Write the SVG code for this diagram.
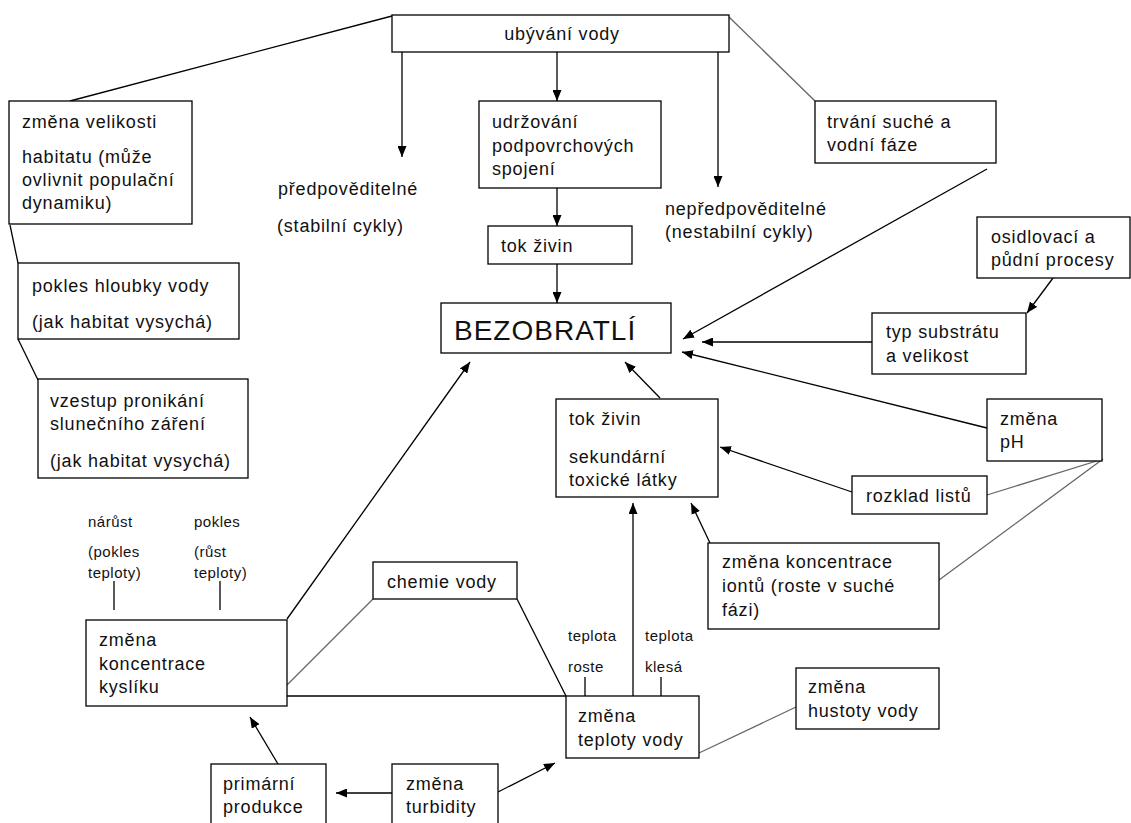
<svg xmlns="http://www.w3.org/2000/svg" width="1131" height="823" viewBox="0 0 1131 823">
<defs>
<marker id="ah" markerUnits="userSpaceOnUse" markerWidth="11" markerHeight="9" refX="11" refY="4.5" orient="auto">
<path d="M0,0 L11,4.5 L0,9 z" fill="#000"/>
</marker>
<style>
rect.b{fill:#fff;stroke:#000;stroke-width:1.3}
text{font-family:"Liberation Sans",Arial,sans-serif;font-size:18px;letter-spacing:0.8px;fill:#111}
text.s{font-size:15px;letter-spacing:0.5px}
text.big{font-size:28px;letter-spacing:1px}
.c line,.c polyline{stroke:#000;stroke-width:1.3;fill:none}
.c .g{stroke:#666}
.c .a{marker-end:url(#ah)}
</style>
</defs>
<rect width="1131" height="823" fill="#fff"/>
<g class="c" id="connectors">
<line x1="392" y1="16" x2="70" y2="101"/>
<line class="a" x1="402" y1="52" x2="402" y2="157"/>
<line class="a" x1="557" y1="52" x2="557" y2="101"/>
<line class="a" x1="718" y1="52" x2="718" y2="187"/>
<line class="g" x1="729" y1="17" x2="815" y2="101"/>
<line class="a" x1="557" y1="188" x2="557" y2="226"/>
<line class="a" x1="557" y1="264" x2="557" y2="303"/>
<line class="a" x1="987" y1="169" x2="683" y2="339"/>
<line class="a" x1="1053" y1="278" x2="1027" y2="313"/>
<line class="a" x1="872" y1="342" x2="702" y2="342"/>
<line class="a" x1="987" y1="428" x2="682" y2="352"/>
<line class="a" x1="852" y1="492" x2="720" y2="447"/>
<line class="g" x1="1103" y1="459" x2="987" y2="495"/>
<line class="g" x1="1103" y1="459" x2="939" y2="580"/>
<line class="a" x1="660" y1="398" x2="625" y2="362"/>
<line class="a" x1="710" y1="543" x2="691" y2="503"/>
<line class="a" x1="633" y1="696" x2="633" y2="503"/>
<line x1="585" y1="677" x2="585" y2="696"/>
<line x1="661" y1="677" x2="661" y2="696"/>
<line class="g" x1="796" y1="707" x2="699" y2="753"/>
<line x1="287" y1="696" x2="566" y2="696"/>
<line class="g" x1="373" y1="599" x2="287" y2="685"/>
<line x1="517" y1="599" x2="566" y2="696"/>
<line class="a" x1="287" y1="619" x2="470" y2="362"/>
<line x1="114" y1="581" x2="114" y2="610"/>
<line x1="220" y1="581" x2="220" y2="610"/>
<line class="a" x1="278" y1="764" x2="250" y2="717"/>
<line class="a" x1="392" y1="793" x2="336" y2="793"/>
<line class="a" x1="498" y1="792" x2="555" y2="763"/>
<line x1="10" y1="225" x2="18" y2="263"/>
<line x1="18" y1="339" x2="38" y2="380"/>
</g>
<g id="ubyvani"><rect class="b" x="392" y="15" width="337" height="37"/><text x="562" y="40" text-anchor="middle">ubývání vody</text></g>
<g id="velikost"><rect class="b" x="9" y="101" width="183" height="123"/>
<text x="22" y="128">změna velikosti</text><text x="22" y="163">habitatu (může</text><text x="22" y="186">ovlivnit populační</text><text x="22" y="209">dynamiku)</text></g>
<g id="pokles"><rect class="b" x="18" y="263" width="221" height="76"/>
<text x="32" y="292">pokles hloubky vody</text><text x="32" y="328">(jak habitat vysychá)</text></g>
<g id="vzestup"><rect class="b" x="38" y="379" width="210" height="99"/>
<text x="50" y="407">vzestup pronikání</text><text x="50" y="430">slunečního záření</text><text x="50" y="467">(jak habitat vysychá)</text></g>
<g id="predpov"><text x="278" y="195">předpověditelné</text><text x="277" y="232">(stabilní cykly)</text></g>
<g id="nepredpov"><text x="665" y="215">nepředpověditelné</text><text x="665" y="238">(nestabilní cykly)</text></g>
<g id="udrzovani"><rect class="b" x="479" y="101" width="182" height="87"/>
<text x="492" y="128">udržování</text><text x="492" y="152">podpovrchových</text><text x="492" y="175">spojení</text></g>
<g id="tok1"><rect class="b" x="488" y="226" width="144" height="38"/><text x="501" y="252">tok živin</text></g>
<g id="trvani"><rect class="b" x="815" y="101" width="181" height="62"/>
<text x="827" y="128">trvání suché a</text><text x="827" y="151">vodní fáze</text></g>
<g id="bezobratli"><rect class="b" x="441" y="303" width="230" height="50"/><text class="big" x="454" y="340">BEZOBRATLÍ</text></g>
<g id="osidlovaci"><rect class="b" x="977" y="217" width="153" height="61"/>
<text x="991" y="243">osidlovací a</text><text x="991" y="266">půdní procesy</text></g>
<g id="substrat"><rect class="b" x="872" y="313" width="154" height="61"/>
<text x="886" y="338">typ substrátu</text><text x="886" y="362">a velikost</text></g>
<g id="ph"><rect class="b" x="987" y="399" width="115" height="62"/>
<text x="1000" y="425">změna</text><text x="1000" y="448">pH</text></g>
<g id="rozklad"><rect class="b" x="852" y="476" width="135" height="38"/><text x="866" y="502">rozklad listů</text></g>
<g id="tok2"><rect class="b" x="556" y="399" width="162" height="98"/>
<text x="569" y="425">tok živin</text><text x="569" y="463">sekundární</text><text x="569" y="486">toxické látky</text></g>
<g id="ionty"><rect class="b" x="708" y="543" width="231" height="86"/>
<text x="722" y="568">změna koncentrace</text><text x="722" y="592">iontů (roste v suché</text><text x="722" y="616">fázi)</text></g>
<g id="hustota"><rect class="b" x="796" y="668" width="143" height="61"/>
<text x="808" y="693">změna</text><text x="808" y="717">hustoty vody</text></g>
<g id="teplota"><rect class="b" x="566" y="696" width="133" height="62"/>
<text x="578" y="722">změna</text><text x="578" y="746">teploty vody</text></g>
<g id="teplota-labels"><text class="s" x="568" y="641">teplota</text><text class="s" x="568" y="672">roste</text>
<text class="s" x="645" y="641">teplota</text><text class="s" x="645" y="672">klesá</text></g>
<g id="chemie"><rect class="b" x="373" y="562" width="144" height="37"/><text x="387" y="588">chemie vody</text></g>
<g id="kyslik"><rect class="b" x="86" y="620" width="201" height="86"/>
<text x="99" y="646">změna</text><text x="99" y="670">koncentrace</text><text x="99" y="693">kyslíku</text></g>
<g id="kyslik-labels"><text class="s" x="88" y="527">nárůst</text><text class="s" x="88" y="557">(pokles</text><text class="s" x="88" y="578">teploty)</text>
<text class="s" x="194" y="527">pokles</text><text class="s" x="194" y="557">(růst</text><text class="s" x="194" y="578">teploty)</text></g>
<g id="primarni"><rect class="b" x="211" y="764" width="115" height="70"/>
<text x="223" y="790">primární</text><text x="223" y="813">produkce</text></g>
<g id="turbidita"><rect class="b" x="392" y="764" width="106" height="70"/>
<text x="406" y="790">změna</text><text x="406" y="813">turbidity</text></g>
</svg>
